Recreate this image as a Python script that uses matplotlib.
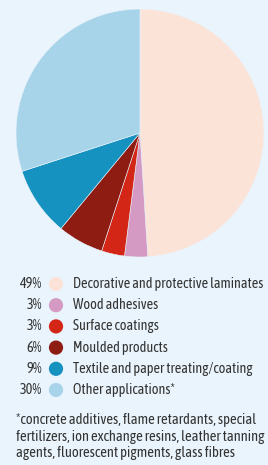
import matplotlib
matplotlib.use("Agg")
import matplotlib.pyplot as plt
from matplotlib import font_manager
from matplotlib.textpath import TextPath
from matplotlib.font_manager import FontProperties

# application shares (percent)
categories = [
    "Decorative and protective laminates",
    "Wood adhesives",
    "Surface coatings",
    "Moulded products",
    "Textile and paper treating/coating",
    "Other applications*",
]
shares = [49, 3, 3, 6, 9, 30]
colors = ["#fce3d8", "#d49ac4", "#d32617", "#8f1c12", "#1592bf", "#a8d4ea"]
footnote_lines = [
    "*concrete additives, flame retardants, special",
    "fertilizers, ion exchange resins, leather tanning",
    "agents, fluorescent pigments, glass fibres",
]

BG = "#eaf4fc"
TEXT = "#333333"

# pick the installed narrow face closest to the reference proportions
# (label ~190 px wide, capitals ~10.5 px high)
names = {f.name for f in font_manager.fontManager.ttflist}
cands = [n for n in ["Archivo Narrow", "Asap Condensed", "Barlow Semi Condensed",
                     "Barlow Condensed", "Liberation Sans Narrow", "Liberation Sans",
                     "Roboto"] if n in names]
target = 190 / 10.5
best, best_err = "DejaVu Sans", 1e9
for nm in cands:
    fp = FontProperties(family=nm, weight="normal", style="normal")
    cap = TextPath((0, 0), "H", size=10, prop=fp).get_extents().height
    wid = TextPath((0, 0), categories[0], size=10, prop=fp).get_extents().width
    err = abs(wid / cap - target)
    if err < best_err:
        best, best_err = nm, err
plt.rcParams["font.family"] = [best, "DejaVu Sans"]

W, H = 268, 465
fig = plt.figure(figsize=(W / 100, H / 100), dpi=100, facecolor=BG)
renderer = fig.canvas.get_renderer()


def fit_size(s, target_px, base=10.0):
    t = fig.text(0, 0, s, fontsize=base)
    w = t.get_window_extent(renderer).width
    t.remove()
    return base * target_px / w


# pie: centre ~ (140, 133) px, radius ~124 px
r = 124
cx, cy = 140, 133
ax = fig.add_axes([(cx - r) / W, 1 - (cy + r) / H, 2 * r / W, 2 * r / H])
ax.pie(shares, colors=colors, startangle=90, counterclock=False,
       wedgeprops=dict(linewidth=0.4, edgecolor=BG))
ax.set_aspect("equal")
ax.set_xlim(-1, 1)
ax.set_ylim(-1, 1)
ax.axis("off")

fs = fit_size(categories[0], 190)
fs_note = min(fit_size(footnote_lines[0], 249), fit_size(footnote_lines[1], 250))

# legend rows
top_row, step = 284, 21.2
n = len(categories)
lax = fig.add_axes([0, 1 - (top_row + step * (n - 0.5)) / H, 1, step * n / H])
lax.set_xlim(0, W)
lax.set_ylim(n - 0.5, -0.5)
lax.axis("off")
rows = list(range(n))
lax.scatter([56] * n, rows, s=105, c=colors, linewidths=0)
for i, (cat, v) in enumerate(zip(categories, shares)):
    lax.text(42, i, f"{v}%", ha="right", va="center", fontsize=fs, color=TEXT)
    lax.text(73, i, cat, ha="left", va="center", fontsize=fs, color=TEXT)

for j, line in enumerate(footnote_lines):
    fig.text(16 / W, 1 - (420 + 16.5 * j) / H, line, ha="left", va="center",
             fontsize=fs_note, color=TEXT)

fig.savefig("out.png", dpi=100, facecolor=BG)
